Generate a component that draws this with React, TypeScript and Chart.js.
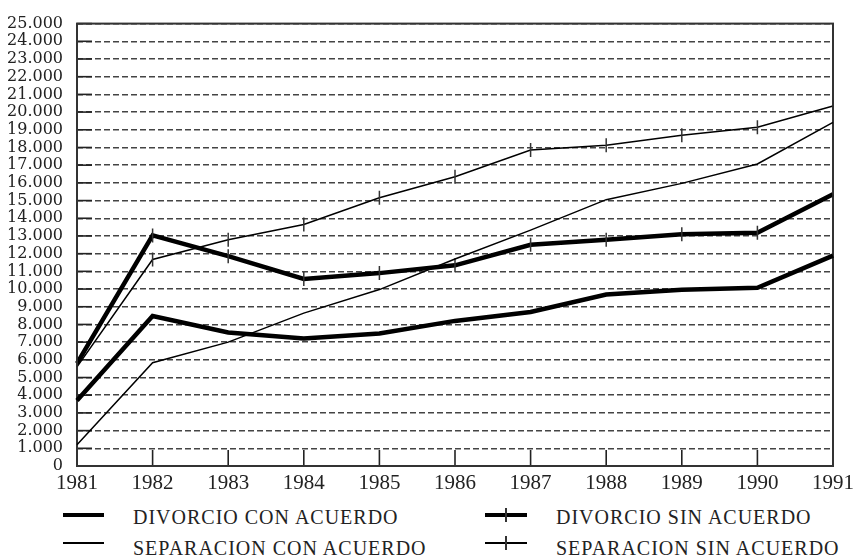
import React, { useEffect, useRef } from "react";
import { Chart, registerables } from "chart.js";

Chart.register(...registerables);

const years = ["1981", "1982", "1983", "1984", "1985", "1986", "1987", "1988", "1989", "1990", "1991"];
const divorcioConAcuerdo = [3700, 8480, 7540, 7200, 7490, 8200, 8700, 9690, 9960, 10070, 11890];
const divorcioSinAcuerdo = [5800, 13030, 11860, 10570, 10900, 11340, 12500, 12780, 13100, 13180, 15350];
const separacionConAcuerdo = [1200, 5840, 7000, 8640, 9970, 11700, 13330, 15050, 15970, 17070, 19420];
const separacionSinAcuerdo = [5600, 11670, 12780, 13650, 15160, 16350, 17860, 18130, 18690, 19140, 20340];
const legendLabels = [
  "DIVORCIO CON ACUERDO",
  "DIVORCIO SIN ACUERDO",
  "SEPARACION CON ACUERDO",
  "SEPARACION SIN ACUERDO",
];

const fmt = (v: number) => String(v).replace(/\B(?=(\d{3})+(?!\d))/g, ".");

const frame = {
  id: "frame",
  beforeDatasetsDraw(chart: any) {
    const { ctx, chartArea } = chart;
    const { left, right, top, bottom } = chartArea;
    ctx.save();
    ctx.strokeStyle = "#222";
    ctx.lineWidth = 1.6;
    const ys = chart.scales.y;
    ys.ticks.forEach((t: any) => {
      const y = ys.getPixelForValue(t.value);
      ctx.beginPath();
      ctx.moveTo(left, y);
      ctx.lineTo(left + 15, y);
      ctx.stroke();
    });
    const xs = chart.scales.x;
    xs.ticks.forEach((_t: any, i: number) => {
      const x = xs.getPixelForTick(i);
      ctx.beginPath();
      ctx.moveTo(x, bottom);
      ctx.lineTo(x, bottom - 16);
      ctx.stroke();
    });
    ctx.lineWidth = 2;
    ctx.strokeStyle = "#333";
    ctx.strokeRect(left, top, right - left, bottom - top);
    ctx.restore();
  },
};

export default function App() {
  const ref = useRef<HTMLCanvasElement>(null);
  useEffect(() => {
    if (!ref.current) return;
    const mk = (label: string, data: number[], width: number, marker: boolean) => ({
      label,
      data,
      borderColor: "#000",
      borderWidth: width,
      tension: 0,
      fill: false,
      pointStyle: "line" as const,
      rotation: 90,
      pointRadius: marker ? 7 : 0,
      pointBorderWidth: 1.5,
      pointBorderColor: "#333",
      pointBackgroundColor: "#333",
      pointHoverRadius: marker ? 7 : 0,
    });
    const chart = new Chart(ref.current, {
      type: "line",
      data: {
        labels: years,
        datasets: [
          mk(legendLabels[2], separacionConAcuerdo, 1.5, false),
          mk(legendLabels[3], separacionSinAcuerdo, 1.5, true),
          mk(legendLabels[0], divorcioConAcuerdo, 4.5, false),
          mk(legendLabels[1], divorcioSinAcuerdo, 4.5, true),
        ],
      },
      plugins: [frame],
      options: {
        animation: false,
        responsive: false,
        maintainAspectRatio: false,
        layout: { padding: { top: 12, right: 28, left: 0, bottom: 0 } },
        plugins: { legend: { display: false }, tooltip: { enabled: false } },
        scales: {
          x: {
            offset: false,
            grid: { display: false, drawTicks: false },
            border: { display: false },
            ticks: {
              color: "#222",
              padding: 5,
              maxRotation: 0,
              autoSkip: false,
              font: { family: "'Liberation Serif'", size: 21 },
            },
            afterFit: (s: any) => {
              s.height = 34;
            },
          },
          y: {
            min: 0,
            max: 25000,
            grid: { color: "#444", lineWidth: 1.5, drawTicks: false },
            border: { display: false, dash: [6, 3] },
            ticks: {
              stepSize: 1000,
              color: "#222",
              padding: 14,
              autoSkip: false,
              font: { family: "'DejaVu Serif'", size: 16 },
              callback: (v: any) => fmt(Number(v)),
            },
            afterFit: (s: any) => {
              s.width = 77;
            },
          },
        },
      },
    });
    return () => chart.destroy();
  }, []);

  const textStyle = (x: number, y: number): React.CSSProperties => ({
    position: "absolute",
    left: x,
    top: y,
    fontFamily: "'Liberation Serif'",
    fontSize: 20,
    lineHeight: "20px",
    letterSpacing: "1px",
    color: "#222",
    whiteSpace: "nowrap",
  });
  const line = (x: number, y: number, w: number, h: number): React.CSSProperties => ({
    position: "absolute",
    left: x,
    top: y - h / 2,
    width: w,
    height: h,
    background: "#000",
  });
  const tick = (x: number, y: number): React.CSSProperties => ({
    position: "absolute",
    left: x - 0.75,
    top: y - 7,
    width: 1.5,
    height: 14,
    background: "#333",
  });

  return (
    <div style={{ position: "absolute", left: 0, top: 0, width: 861, height: 558, background: "#fff" }}>
      <canvas ref={ref} width={861} height={500} style={{ position: "absolute", left: 0, top: 0 }} />
      <div style={line(63, 515, 41, 4.5)} />
      <div style={textStyle(133, 507)}>{legendLabels[0]}</div>
      <div style={line(485, 515, 42, 4.5)} />
      <div style={tick(506, 515)} />
      <div style={textStyle(556, 507)}>{legendLabels[1]}</div>
      <div style={line(63, 543, 41, 1.5)} />
      <div style={textStyle(133, 538)}>{legendLabels[2]}</div>
      <div style={line(485, 543, 42, 1.5)} />
      <div style={tick(506, 543)} />
      <div style={textStyle(556, 538)}>{legendLabels[3]}</div>
    </div>
  );
}
